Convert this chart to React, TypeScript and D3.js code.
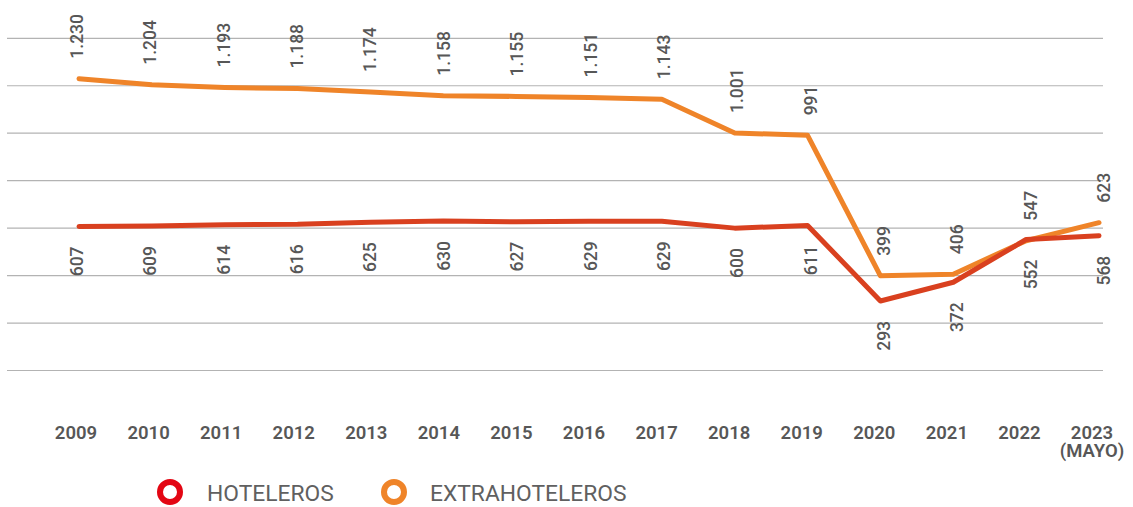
import React from "react";
import * as d3 from "d3";

const years = ["2009","2010","2011","2012","2013","2014","2015","2016","2017","2018","2019","2020","2021","2022","2023"];
const yearSub = ["","","","","","","","","","","","","","","(MAYO)"];
const hoteleros = [607,609,614,616,625,630,627,629,629,600,611,293,372,552,568];
const extrahoteleros = [1230,1204,1193,1188,1174,1158,1155,1151,1143,1001,991,399,406,547,623];
const gridValues = [0,200,400,600,800,1000,1200,1400];

const W = 1133, H = 507;
const RED = "#d9401f";
const ORANGE = "#ef8429";
const TEXT = "#575757";

function fmt(v: number) {
  const s = String(v);
  return s.length > 3 ? s.slice(0, s.length - 3) + "." + s.slice(-3) : s;
}

export default function App() {
  const idx = years.map((_, i) => i);
  const x = d3.scaleLinear().domain([0, years.length - 1]).range([79, 1099]);
  const xYear = d3.scaleLinear().domain([0, years.length - 1]).range([76, 1092]);
  const xVal = d3.scaleLinear().domain([0, years.length - 1]).range([77, 1104]);
  const y = d3.scaleLinear().domain([0, 1400]).range([370.5, 38.3]);

  const line = d3.line<number>().x((_, i) => x(i)).y((d) => y(d)).curve(d3.curveLinear);

  const font = "Roboto, 'DejaVu Sans', sans-serif";

  return (
    <svg width={W} height={H} style={{ position: "absolute", left: 0, top: 0, background: "#fff" }} fontFamily={font}>
      <rect x={0} y={0} width={W} height={H} fill="#fff" />
      {gridValues.map((g) => (
        <line key={g} x1={7} x2={1103} y1={y(g)} y2={y(g)} stroke="#b3b3b3" strokeWidth={1.2} />
      ))}
      <path d={line(extrahoteleros) || ""} fill="none" stroke={ORANGE} strokeWidth={5} strokeLinejoin="round" strokeLinecap="round" />
      <path d={line(hoteleros) || ""} fill="none" stroke={RED} strokeWidth={5} strokeLinejoin="round" strokeLinecap="round" />

      {idx.map((i) => (
        <text key={"o" + i} transform={`translate(${xVal(i)},${y(extrahoteleros[i]) - 20}) rotate(-90)`}
          textAnchor="start" dominantBaseline="central" fontSize={17.5} fontWeight={500} fill={TEXT}>
          {fmt(extrahoteleros[i])}
        </text>
      ))}
      {idx.map((i) => (
        <text key={"r" + i} transform={`translate(${xVal(i)},${y(hoteleros[i]) + 20}) rotate(-90)`}
          textAnchor="end" dominantBaseline="central" fontSize={17.5} fontWeight={500} fill={TEXT}>
          {fmt(hoteleros[i])}
        </text>
      ))}

      {idx.map((i) => (
        <text key={"y" + i} x={xYear(i)} y={439} textAnchor="middle" fontSize={18.5} fontWeight={600} fill={TEXT}>
          <tspan x={xYear(i)}>{years[i]}</tspan>
          {yearSub[i] ? <tspan x={xYear(i)} dy={17.5}>{yearSub[i]}</tspan> : null}
        </text>
      ))}

      <g>
        <circle cx={170} cy={492} r={10} fill="none" stroke="#e30613" strokeWidth={6} />
        <text x={207} y={501} fontSize={22.8} fill="#606060">HOTELEROS</text>
        <circle cx={394} cy={492} r={10} fill="none" stroke={ORANGE} strokeWidth={6} />
        <text x={430} y={501} fontSize={22.8} fill="#606060">EXTRAHOTELEROS</text>
      </g>
    </svg>
  );
}
